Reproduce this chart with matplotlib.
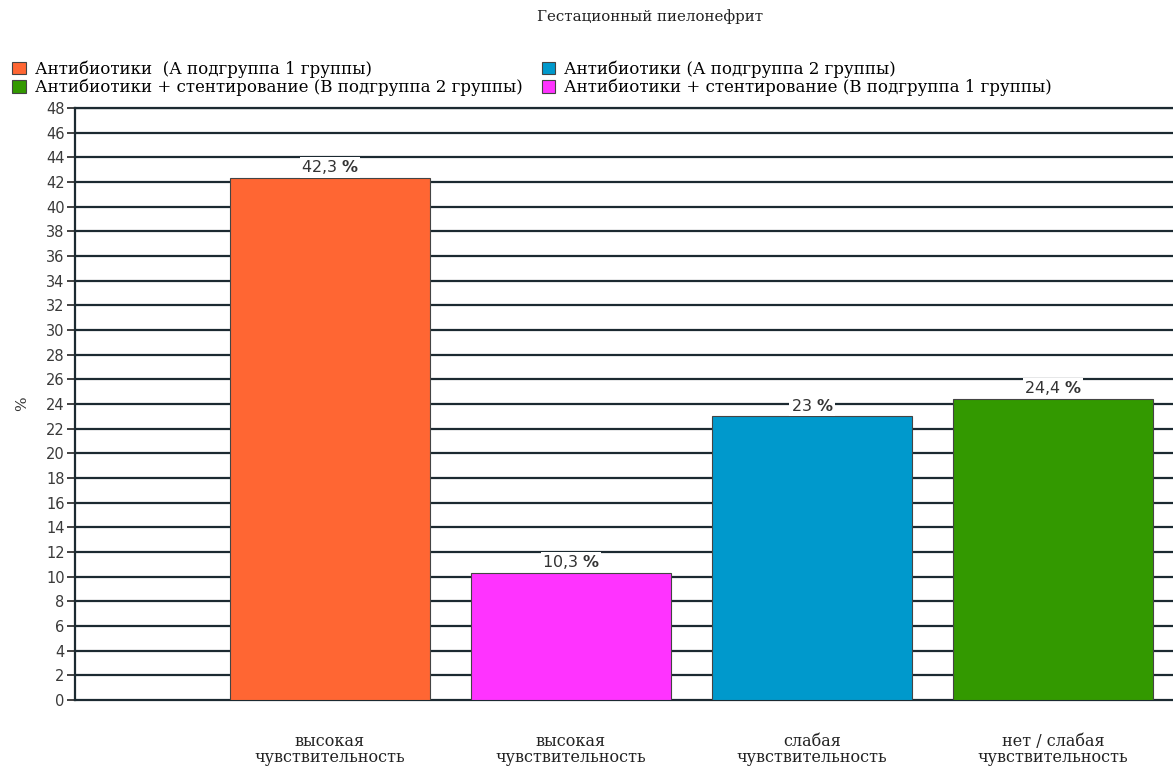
import matplotlib
matplotlib.use("Agg")
import matplotlib.pyplot as plt
from matplotlib.patches import Patch

plt.rcParams['font.family'] = ['DejaVu Serif']
plt.rcParams['mathtext.fontset'] = 'custom'
plt.rcParams['mathtext.rm'] = 'DejaVu Sans'
plt.rcParams['mathtext.bf'] = 'DejaVu Sans:bold'

title = "Гестационный пиелонефрит"
categories = ["высокая\nчувствительность", "высокая\nчувствительность",
              "слабая\nчувствительность", "нет / слабая\nчувствительность"]
values = [42.3, 10.3, 23.0, 24.4]
value_labels = ["42,3", "10,3", "23", "24,4"]
colors = ["#FF6633", "#FF33FF", "#0099CC", "#339900"]
legend_labels = [
    "Антибиотики  (А подгруппа 1 группы)",
    "Антибиотики + стентирование (В подгруппа 2 группы)",
    "Антибиотики (А подгруппа 2 группы)",
    "Антибиотики + стентирование (В подгруппа 1 группы)",
]
legend_colors = ["#FF6633", "#339900", "#0099CC", "#FF33FF"]
yticks = list(range(0, 49, 2))

W, H = 1173, 767
fig = plt.figure(figsize=(W / 100, H / 100), dpi=100)
ax = fig.add_axes([75 / W, 1 - 700 / H, 1 - 75 / W, (700 - 108) / H])

x = [1, 2, 3, 4]
ax.bar(x, values, width=0.826, color=colors, edgecolor="#444444", linewidth=0.8, zorder=3)
for xi, v, lab in zip(x, values, value_labels):
    ax.text(xi, v + 0.15, lab + r" $\mathbf{\%}$", ha="center", va="bottom",
            fontsize=11.5, color="#333333", family="DejaVu Sans", zorder=4,
            bbox=dict(facecolor="white", edgecolor="none", pad=0.8))

ax.set_xlim(-0.058, 4.498)
ax.set_ylim(0, 48)
ax.set_yticks(yticks)
ax.set_yticklabels([str(t) for t in yticks], fontsize=10.5, color="#3a3a3a",
                   family="DejaVu Sans")
for t in yticks[1:]:
    ax.axhline(t, color="#1c2a31", linewidth=1.6, zorder=1)

ax.set_xticks(x)
ax.set_xticklabels(categories, fontsize=11.5, color="#222222", linespacing=0.92)
ax.tick_params(axis="x", length=0, pad=24)
ax.tick_params(axis="y", length=6, width=1.2, color="#222222", pad=1.5)

ax.spines["right"].set_visible(False)
for s in ["left", "bottom", "top"]:
    ax.spines[s].set_linewidth(1.6)
    ax.spines[s].set_color("#1c2a31")

ax.set_ylabel("%", fontsize=11, color="#333333", labelpad=12)

fig.text(650 / W, 1 - 17 / H, title, ha="center", va="center", fontsize=10.8, color="#222222")

handles = [Patch(facecolor=c, edgecolor="#444444", linewidth=0.8) for c in legend_colors]
fig.legend(handles, legend_labels, ncol=2, loc="upper left",
           bbox_to_anchor=(9 / W, 1 - 57 / H), frameon=False, fontsize=12,
           handlelength=0.8, handleheight=0.8, handletextpad=0.55,
           columnspacing=1.15, labelspacing=0.05, borderaxespad=0, borderpad=0.2)

fig.savefig("out.png", dpi=100)
